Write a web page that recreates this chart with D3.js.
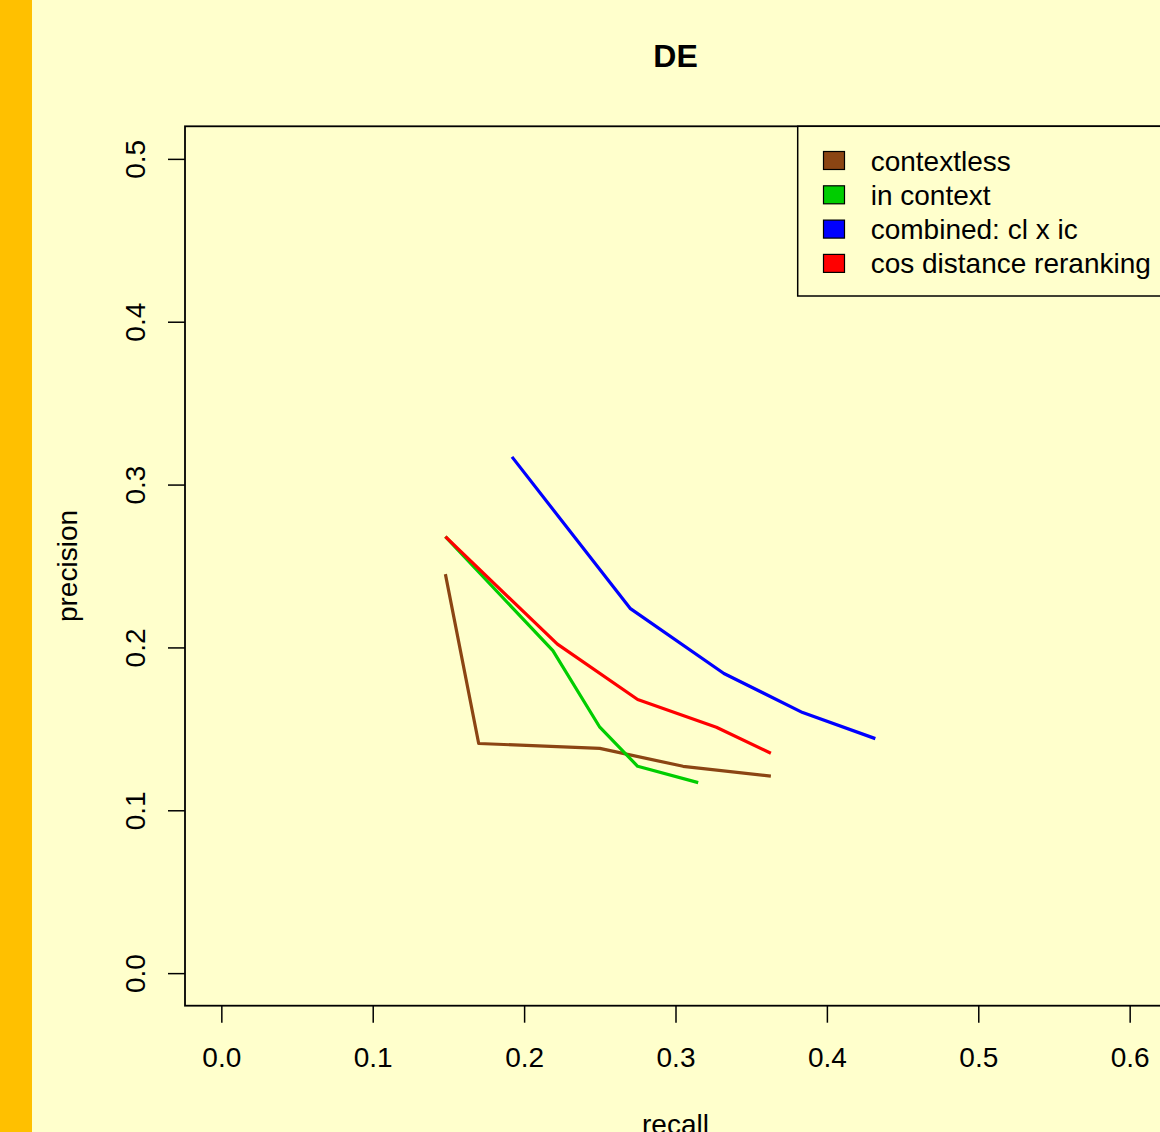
<!DOCTYPE html>
<html>
<head>
<meta charset="utf-8">
<script src="https://cdn.jsdelivr.net/npm/d3@7"></script>
<style>
  body { margin: 0; background: #FFFFCC; }
  svg text { font-family: "Liberation Sans", Arial, sans-serif; fill: #000; }
</style>
</head>
<body>
<div id="chart"></div>
<script>
// values
var seriesNames = ["contextless", "in context", "combined: cl x ic", "cos distance reranking"];
var seriesColors = ["#8B4513", "#00CD00", "#0000FF", "#FF0000"];

var contextlessRecall = [0.148, 0.170, 0.250, 0.305, 0.363];
var contextlessPrecision = [0.245, 0.141, 0.138, 0.127, 0.121];

var inContextRecall = [0.148, 0.219, 0.250, 0.275, 0.315];
var inContextPrecision = [0.268, 0.198, 0.151, 0.127, 0.117];

var combinedRecall = [0.192, 0.270, 0.332, 0.384, 0.432];
var combinedPrecision = [0.317, 0.224, 0.184, 0.160, 0.144];

var rerankRecall = [0.148, 0.222, 0.275, 0.327, 0.363];
var rerankPrecision = [0.268, 0.202, 0.168, 0.151, 0.135];

var xTicks = [0, 0.1, 0.2, 0.3, 0.4, 0.5, 0.6];
var yTicks = [0, 0.1, 0.2, 0.3, 0.4, 0.5];

var width = 1160, height = 1132;
var plot = {left: 185, top: 126.3, right: 1166, bottom: 1005.7};

var svg = d3.select("#chart").append("svg")
  .attr("width", width)
  .attr("height", height);

svg.append("rect")
  .attr("width", width).attr("height", height)
  .attr("fill", "#FFFFCC");

// orange stripe on the left
svg.append("rect")
  .attr("x", 0).attr("y", 0)
  .attr("width", 32).attr("height", height)
  .attr("fill", "#FFC000");

// R style ranges: 4% padding around the data limits
var x = d3.scaleLinear().domain([-0.024, 0.624]).range([plot.left, plot.right]);
var y = d3.scaleLinear().domain([-0.02, 0.52]).range([plot.bottom, plot.top]);

// x axis
var xAxis = svg.append("g")
  .attr("transform", "translate(0," + plot.bottom + ")")
  .call(d3.axisBottom(x).tickValues(xTicks).tickSize(17).tickPadding(25).tickFormat(d3.format(".1f")));
xAxis.select(".domain").remove();
xAxis.selectAll(".tick line").attr("stroke", "#000").attr("stroke-width", 1.5);
xAxis.selectAll(".tick text").attr("font-size", 28).attr("dy", null).attr("y", 61.5);

// y axis, labels rotated like R default
var yAxis = svg.append("g")
  .attr("transform", "translate(" + plot.left + ",0)")
  .call(d3.axisLeft(y).tickValues(yTicks).tickSize(17).tickFormat(d3.format(".1f")));
yAxis.select(".domain").remove();
yAxis.selectAll(".tick line").attr("stroke", "#000").attr("stroke-width", 1.5);
yAxis.selectAll(".tick text")
  .attr("font-size", 28)
  .attr("x", null).attr("dy", null)
  .attr("text-anchor", "middle")
  .attr("transform", "translate(-40,0)rotate(-90)");

// plot box
svg.append("rect")
  .attr("x", plot.left).attr("y", plot.top)
  .attr("width", plot.right - plot.left).attr("height", plot.bottom - plot.top)
  .attr("fill", "none").attr("stroke", "#000").attr("stroke-width", 1.8);

// lines
var series = [
  {recall: contextlessRecall, precision: contextlessPrecision},
  {recall: inContextRecall, precision: inContextPrecision},
  {recall: combinedRecall, precision: combinedPrecision},
  {recall: rerankRecall, precision: rerankPrecision}
];

var line = d3.line()
  .x(function(d){ return x(d[0]); })
  .y(function(d){ return y(d[1]); });

series.forEach(function(s, i){
  svg.append("path")
    .datum(d3.zip(s.recall, s.precision))
    .attr("d", line)
    .attr("fill", "none")
    .attr("stroke", seriesColors[i])
    .attr("stroke-width", 3.2)
    .attr("stroke-linejoin", "round");
});

// titles
svg.append("text")
  .attr("x", (plot.left + plot.right) / 2).attr("y", 67)
  .attr("text-anchor", "middle")
  .attr("font-size", 32).attr("font-weight", "bold")
  .text("DE");

svg.append("text")
  .attr("x", (plot.left + plot.right) / 2).attr("y", 1134)
  .attr("text-anchor", "middle")
  .attr("font-size", 28)
  .text("recall");

svg.append("text")
  .attr("transform", "translate(77," + ((plot.top + plot.bottom) / 2) + ")rotate(-90)")
  .attr("text-anchor", "middle")
  .attr("font-size", 28)
  .text("precision");

// legend
var legend = svg.append("g");
legend.append("rect")
  .attr("x", 797.7).attr("y", plot.top)
  .attr("width", plot.right - 797.7).attr("height", 296 - plot.top)
  .attr("fill", "#FFFFCC").attr("stroke", "#000").attr("stroke-width", 1.5);

seriesNames.forEach(function(name, i){
  var cy = 160.5 + i * 34.3;
  legend.append("rect")
    .attr("x", 823.5).attr("y", cy - 9)
    .attr("width", 21).attr("height", 18)
    .attr("fill", seriesColors[i])
    .attr("stroke", "#000").attr("stroke-width", 1.2);
  legend.append("text")
    .attr("x", 870.7).attr("y", cy + 10)
    .attr("font-size", 28)
    .text(name);
});
</script>
</body>
</html>
